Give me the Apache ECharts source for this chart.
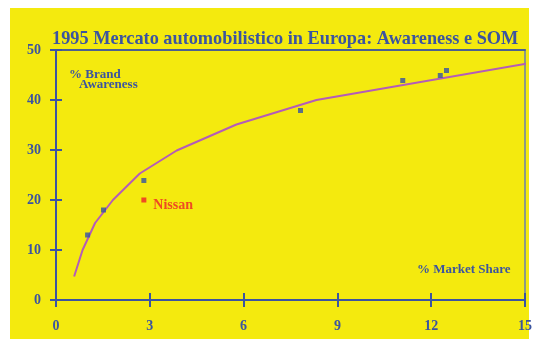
<!DOCTYPE html>
<html><head><meta charset="utf-8">
<script src="https://cdn.jsdelivr.net/npm/echarts@6/dist/echarts.min.js"></script>
<style>html,body{margin:0;padding:0;background:#fff;}#c{width:536px;height:339px;}</style>
</head><body><div id="c"></div>
<script>
const titleText = '1995 Mercato automobilistico in Europa: Awareness e SOM';
const xTicks = [0, 3, 6, 9, 12, 15];
const yTicks = [0, 10, 20, 30, 40, 50];
// curve vertices: market share (%) vs awareness (%)
const curveX = [0.58, 0.85, 1.25, 1.82, 2.68, 3.86, 5.77, 8.33, 15.08];
const curveY = [4.7, 10, 15.4, 20, 25.3, 29.9, 35.1, 40, 47.3];
// brands
const brandX = [1.01, 1.52, 2.81, 7.82, 11.09, 12.29, 12.49];
const brandY = [13, 18, 23.9, 37.9, 43.9, 44.9, 45.9];
const nissanX = [2.81];
const nissanY = [20];
const nissanName = 'Nissan';

const blue = '#3b54a0';
const font = '"Liberation Serif", "Times New Roman", serif';
const chart = echarts.init(document.getElementById('c'), null, {renderer: 'canvas'});
const baseX = {type: 'value', min: 0, max: 15, interval: 3, splitLine: {show: false}};
const baseY = {type: 'value', min: 0, max: 50, interval: 10, splitLine: {show: false}};
chart.setOption({
  backgroundColor: '#ffffff',
  animation: false,
  graphic: [
    {type: 'rect', z: -10, shape: {x: 10, y: 8, width: 519, height: 331}, style: {fill: '#f4ea0e'}},
    {type: 'text', left: 69, top: 68, style: {text: '% Brand', font: 'bold 13px ' + font, fill: blue}},
    {type: 'text', left: 79, top: 78, style: {text: 'Awareness', font: 'bold 13px ' + font, fill: blue}},
    {type: 'text', left: 417, top: 263, style: {text: '% Market Share', font: 'bold 13px ' + font, fill: blue}}
  ],
  title: {text: titleText, left: 47, top: 25, textStyle: {fontFamily: font, fontWeight: 'bold', fontSize: 18.3, color: blue}},
  grid: {left: 56, top: 50, right: 11, bottom: 39},
  xAxis: [
    Object.assign({}, baseX, {position: 'bottom', axisLine: {onZero: false, lineStyle: {color: blue, width: 2}},
      axisTick: {length: 7, lineStyle: {color: blue, width: 2}},
      axisLabel: {margin: 19, color: blue, fontFamily: font, fontWeight: 'bold', fontSize: 14,
        formatter: v => xTicks.includes(v) ? String(v) : ''}}),
    Object.assign({}, baseX, {position: 'bottom', axisLine: {show: false, onZero: false},
      axisTick: {inside: true, length: 7, lineStyle: {color: blue, width: 2}}, axisLabel: {show: false}}),
    Object.assign({}, baseX, {position: 'top', axisLine: {onZero: false, lineStyle: {color: '#4c6090', width: 2}},
      axisTick: {show: false}, axisLabel: {show: false}})
  ],
  yAxis: [
    Object.assign({}, baseY, {position: 'left', axisLine: {onZero: false, lineStyle: {color: blue, width: 2}},
      axisTick: {length: 6, lineStyle: {color: blue, width: 2}},
      axisLabel: {margin: 15, color: blue, fontFamily: font, fontWeight: 'bold', fontSize: 14,
        formatter: v => yTicks.includes(v) ? String(v) : ''}}),
    Object.assign({}, baseY, {position: 'left', axisLine: {show: false, onZero: false},
      axisTick: {inside: true, length: 6, lineStyle: {color: blue, width: 2}}, axisLabel: {show: false}}),
    Object.assign({}, baseY, {position: 'right', axisLine: {onZero: false, lineStyle: {color: '#8c9a86', width: 2}},
      axisTick: {show: false}, axisLabel: {show: false}})
  ],
  series: [
    {type: 'line', xAxisIndex: 0, yAxisIndex: 0, data: curveX.map((x, i) => [x, curveY[i]]),
      showSymbol: false, symbol: 'none', lineStyle: {color: '#b45cb8', width: 2}, clip: false, z: 3},
    {type: 'scatter', xAxisIndex: 0, yAxisIndex: 0, data: brandX.map((x, i) => [x, brandY[i]]),
      symbol: 'rect', symbolSize: 5, itemStyle: {color: '#3552a4'}, z: 4},
    {type: 'scatter', xAxisIndex: 0, yAxisIndex: 0, data: nissanX.map((x, i) => [x, nissanY[i]]),
      symbol: 'rect', symbolSize: 5, itemStyle: {color: '#ee2228'}, z: 4,
      label: {show: true, position: 'right', distance: 7, offset: [0, 5], formatter: nissanName,
        color: '#ee2228', fontFamily: font, fontWeight: 'bold', fontSize: 14}}
  ]
});
</script></body></html>
